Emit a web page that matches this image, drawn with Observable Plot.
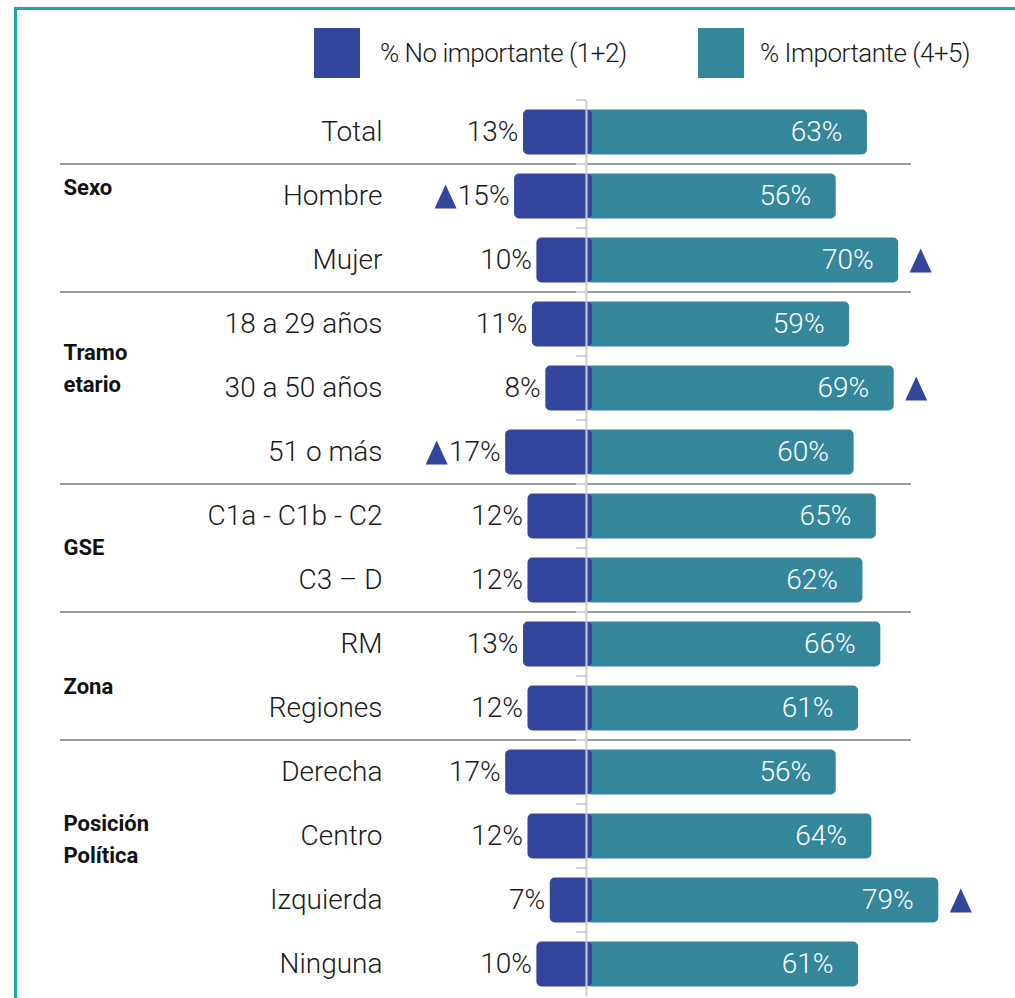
<!DOCTYPE html>
<html>
<head>
<meta charset="utf-8">
<script src="https://cdn.jsdelivr.net/npm/d3@7"></script>
<script src="https://cdn.jsdelivr.net/npm/@observablehq/plot@0.6"></script>
<style>
  html, body { margin: 0; padding: 0; background: #fff; }
  body { width: 1015px; height: 998px; position: relative; overflow: hidden; font-family: Roboto, sans-serif; }
  #frame { position: absolute; left: 14px; top: 7px; width: 1100px; height: 1100px;
           border-top: 3px solid #22a6a2; border-left: 3px solid #22a6a2; box-sizing: border-box; }
  .sw { position: absolute; width: 46px; height: 50px; }
  .lt { position: absolute; font-size: 26px; font-weight: 300; color: #1a1a1a; line-height: 50px;
        white-space: nowrap; letter-spacing: -0.5px; }
  #chart { position: absolute; left: 0; top: 96px; }
  #chart svg text.lbl { letter-spacing: -0.6px; }
</style>
</head>
<body>
<div id="frame"></div>
<div id="legend"></div>
<div id="chart"></div>
<script>
// ---- data ----
const categories = ["Total", "Hombre", "Mujer", "18 a 29 años", "30 a 50 años", "51 o más",
  "C1a - C1b - C2", "C3 – D", "RM", "Regiones", "Derecha", "Centro", "Izquierda", "Ninguna"];
const noImportante = [13, 15, 10, 11, 8, 17, 12, 12, 13, 12, 17, 12, 7, 10];
const importante   = [63, 56, 70, 59, 69, 60, 65, 62, 66, 61, 56, 64, 79, 61];
const sigLeft  = ["Hombre", "51 o más"];
const sigRight = ["Mujer", "30 a 50 años", "Izquierda"];
const groupLabels = ["Sexo", "Tramo\netario", "GSE", "Zona", "Posición\nPolítica"];
const groupFirstRow = ["Hombre", "18 a 29 años", "C1a - C1b - C2", "RM", "Derecha"];
const groupLabelRow = ["Hombre", "30 a 50 años", "C1a - C1b - C2", "Regiones", "Centro"];
const seriesNames = ["% No importante (1+2)", "% Importante (4+5)"];

// ---- style ----
const BLUE = "#32479c", TEAL = "#34869b";
const groupLabelDy = [-12, -23, 28, -25, 0];
const tallTriangle = {draw(ctx) { ctx.moveTo(0, -12); ctx.lineTo(11, 12); ctx.lineTo(-11, 12); ctx.closePath(); }};

// legend
const legend = document.getElementById("legend");
[[BLUE, 314, 380], [TEAL, 698, 760]].forEach(([c, sx, tx], i) => {
  const s = document.createElement("div");
  s.className = "sw"; s.style.left = sx + "px"; s.style.top = "28px"; s.style.background = c;
  legend.appendChild(s);
  const t = document.createElement("div");
  t.className = "lt"; t.style.left = tx + "px"; t.style.top = "28px"; t.textContent = seriesNames[i];
  legend.appendChild(t);
});

const data = categories.map((c, i) => ({cat: c, no: noImportante[i], si: importante[i]}));
const BAND = 64, INS = 9.5;
const xDomain = [-131.4, 96.2];
const FS = 28;

const groupMarks = groupLabels.map((g, i) =>
  Plot.text([g], {y: () => groupLabelRow[i], frameAnchor: "left", dx: 63, dy: groupLabelDy[i],
    textAnchor: "start", fontWeight: "bold", fontSize: 22, lineHeight: 1.45, fill: "#111"}));

const chart = Plot.plot({
  width: 1015,
  height: 902,
  marginTop: 4,
  marginBottom: 2,
  marginLeft: 0,
  marginRight: 0,
  style: {fontFamily: "Roboto, sans-serif", background: "transparent", overflow: "visible"},
  x: {domain: xDomain, axis: null},
  y: {domain: categories, padding: 0, axis: null},
  marks: [
    // group separators at band tops
    Plot.barX(groupFirstRow, {y: d => d, x1: xDomain[0], x2: xDomain[1], fill: "#9b9b9b",
      insetLeft: 60, insetRight: 104, insetTop: -1, insetBottom: BAND - 1}),
    // boundary ticks on the category axis
    Plot.barX(categories, {y: d => d, x1: xDomain[0], x2: 0, fill: "#d2d2d2",
      insetLeft: 576, insetTop: -1, insetBottom: BAND - 1}),
    Plot.barX(data, {y: "cat", x1: 0, x2: "si", fill: TEAL, rx: 5, insetTop: INS, insetBottom: INS}),
    Plot.barX(data, {y: "cat", x1: d => -d.no, x2: 0, fill: BLUE, rx: 5, insetTop: INS, insetBottom: INS,
      insetLeft: -5, insetRight: -6}),
    Plot.ruleX([0], {stroke: "#cfcfcf", strokeWidth: 2}),
    // row labels
    Plot.text(categories, {y: d => d, frameAnchor: "left", dx: 382, textAnchor: "end",
      fontSize: FS, fontWeight: 300, fill: "#1a1a1a", className: "lbl"}),
    ...groupMarks,
    // values
    Plot.text(data, {y: "cat", x: d => -d.no, text: d => d.no + "%", textAnchor: "end", dx: -10,
      fontSize: FS, fontWeight: 300, fill: "#1a1a1a", className: "lbl"}),
    Plot.text(data, {y: "cat", x: "si", text: d => d.si + "%", textAnchor: "end", dx: -25,
      fontSize: FS, fontWeight: 300, fill: "#ffffff", className: "lbl"}),
    // significance markers
    Plot.dot(data.filter(d => sigLeft.includes(d.cat)), {y: "cat", x: d => -d.no, dx: -74,
      symbol: tallTriangle, r: 8, fill: BLUE, stroke: "none"}),
    Plot.dot(data.filter(d => sigRight.includes(d.cat)), {y: "cat", x: "si", dx: 22,
      symbol: tallTriangle, r: 8, fill: BLUE, stroke: "none"})
  ]
});
document.getElementById("chart").appendChild(chart);
</script>
</body>
</html>
